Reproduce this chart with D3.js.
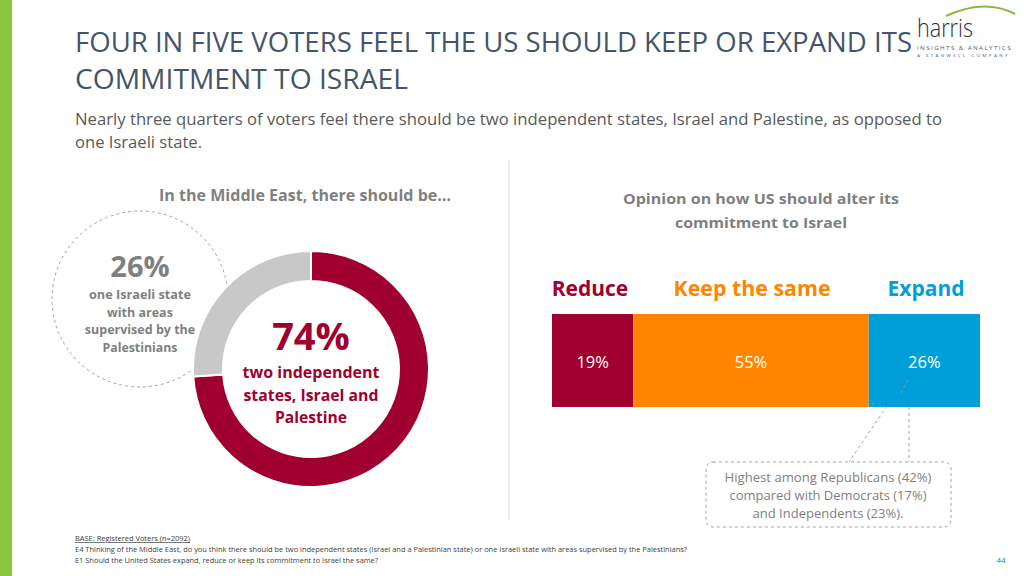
<!DOCTYPE html>
<html><head><meta charset="utf-8">
<script src="https://cdn.jsdelivr.net/npm/d3@7"></script>
<style>
html,body{margin:0;padding:0;background:#fff;}
svg{display:block;}
text{font-family:"Open Sans","Lato",sans-serif;}
</style></head>
<body>
<svg id="c" width="1024" height="576"></svg>
<script>
// ---- data ----
const donutLabels = ["two independent states, Israel and Palestine", "one Israeli state with areas supervised by the Palestinians"];
const donutValues = [74, 26];
const donutColors = ["#a0002f", "#c8c8c8"];

const barCategories = ["Reduce", "Keep the same", "Expand"];
const barValues = [19, 55, 26];
const barColors = ["#a0002f", "#ff8500", "#009fd9"];

const titleLines = ["FOUR IN FIVE VOTERS FEEL THE US SHOULD KEEP OR EXPAND ITS", "COMMITMENT TO ISRAEL"];
const subtitleLines = ["Nearly three quarters of voters feel there should be two independent states, Israel and Palestine, as opposed to", "one Israeli state."];
const leftHeader = "In the Middle East, there should be…";
const rightHeader = ["Opinion on how US should alter its", "commitment to Israel"];
const bigLabelLines = ["two independent", "states, Israel and", "Palestine"];
const smallLabelLines = ["one Israeli state", "with areas", "supervised by the", "Palestinians"];
const calloutLines = ["Highest among Republicans (42%)", "compared with Democrats (17%)", "and Independents (23%)."];
const footnotes = ["BASE: Registered Voters (n=2092)",
  "E4 Thinking of the Middle East, do you think there should be two independent states (Israel and a Palestinian state) or one Israeli state with areas supervised by the Palestinians?",
  "E1 Should the United States expand, reduce or keep its commitment to Israel the same?"];

const svg = d3.select("#c");

function fit(sel, w){
  sel.each(function(){
    const n = this.getComputedTextLength();
    if (Math.abs(n - w) > 1) d3.select(this).attr("textLength", w).attr("lengthAdjust","spacingAndGlyphs");
  });
  return sel;
}

// left green band
svg.append("rect").attr("x",0).attr("y",0).attr("width",12).attr("height",576).attr("fill","#8cc63f");

// title
const tW = [837, 333];
titleLines.forEach((t,i)=>{
  fit(svg.append("text").attr("x",75).attr("y",52+i*37).attr("font-size",27).attr("fill","#44546a").text(t), tW[i]);
});
const sW = [867, 127];
subtitleLines.forEach((t,i)=>{
  fit(svg.append("text").attr("x",75).attr("y",125+i*23).attr("font-size",16).attr("fill","#595959").text(t), sW[i]);
});

// harris logo
const logo = svg.append("g");
logo.append("path").attr("d","M946,16 Q985,-2 1015,14").attr("fill","none").attr("stroke","#8cb63c").attr("stroke-width",2);
fit(logo.append("text").attr("x",917).attr("y",37).attr("font-size",26).attr("font-weight",300).attr("fill","#2b2b3a").text("harris"),56);
fit(logo.append("text").attr("x",917).attr("y",50).attr("font-size",5.5).attr("fill","#5a5a6a").attr("letter-spacing",1.2).text("INSIGHTS & ANALYTICS"),95);
fit(logo.append("text").attr("x",917).attr("y",57).attr("font-size",4).attr("fill","#5a5a6a").attr("letter-spacing",2).text("A STAGWELL COMPANY"),93);

// divider
svg.append("line").attr("x1",509).attr("x2",509).attr("y1",160).attr("y2",520).attr("stroke","#d9d9d9").attr("stroke-width",1);

// left header
fit(svg.append("text").attr("x",305).attr("y",201).attr("text-anchor","middle").attr("font-size",15.5).attr("font-weight","bold").attr("fill","#7f7f7f").text(leftHeader), 292);

// dashed circle
svg.append("circle").attr("cx",140).attr("cy",299).attr("r",88).attr("fill","none").attr("stroke","#8c8c8c").attr("stroke-width",0.8).attr("stroke-dasharray","3,3");

// donut
const cx = 311, cy = 369;
const pie = d3.pie().sort(null)(donutValues);
const arc = d3.arc().innerRadius(88).outerRadius(118);
svg.append("g").attr("transform",`translate(${cx},${cy})`).selectAll("path").data(pie).join("path")
  .attr("d",arc).attr("fill",(d,i)=>donutColors[i]).attr("stroke","#fff").attr("stroke-width",2);

// 26% label
svg.append("text").attr("x",140).attr("y",277).attr("text-anchor","middle").attr("font-size",29).attr("font-weight","bold").attr("fill","#7f7f7f").text(donutValues[1]+"%");
const slW=[102,66,110,75];
smallLabelLines.forEach((t,i)=>{
  fit(svg.append("text").attr("x",140).attr("y",299+i*17.7).attr("text-anchor","middle").attr("font-size",12.5).attr("font-weight","bold").attr("fill","#7f7f7f").text(t), slW[i]);
});

// 74% label
svg.append("text").attr("x",311).attr("y",350).attr("text-anchor","middle").attr("font-size",38).attr("font-weight","bold").attr("fill","#a0002f").text(donutValues[0]+"%");
const blW=[137,135,72];
bigLabelLines.forEach((t,i)=>{
  fit(svg.append("text").attr("x",311).attr("y",378+i*22.5).attr("text-anchor","middle").attr("font-size",16.5).attr("font-weight","bold").attr("fill","#a0002f").text(t), blW[i]);
});

// right header
const rhW=[276,172];
rightHeader.forEach((t,i)=>{
  fit(svg.append("text").attr("x",761).attr("y",204+i*23.5).attr("text-anchor","middle").attr("font-size",15).attr("font-weight","bold").attr("fill","#7f7f7f").text(t), rhW[i]);
});

// stacked bar
const x = d3.scaleLinear().domain([0, d3.sum(barValues)]).range([552, 980]);
let cum = 0;
const segs = barValues.map((v,i)=>{ const s={cat:barCategories[i], v, x0:cum, x1:cum+v, c:barColors[i]}; cum+=v; return s; });
const barY = 314, barH = 93;
svg.append("g").selectAll("rect").data(segs).join("rect")
  .attr("x",d=>x(d.x0)).attr("width",d=>x(d.x1)-x(d.x0)).attr("y",barY).attr("height",barH).attr("fill",d=>d.c);
svg.append("g").selectAll("text").data(segs).join("text")
  .attr("x",d=>(x(d.x0)+x(d.x1))/2).attr("y",368).attr("text-anchor","middle").attr("font-size",16.5).attr("fill","#fff").text(d=>d.v+"%");

// legend labels above bars
const legW=[77,157,77];
const legX=[590,752,926];
svg.append("g").selectAll("text").data(segs).join("text")
  .attr("x",(d,i)=>legX[i]).attr("y",296).attr("text-anchor","middle").attr("font-size",21).attr("font-weight","bold").attr("fill",d=>d.c).text(d=>d.cat)
  .each(function(d,i){ fit(d3.select(this), legW[i]); });

// callout
const cg = svg.append("g").attr("fill","none").attr("stroke","#8c8c8c").attr("stroke-width",0.8).attr("stroke-dasharray","3,3");
cg.append("line").attr("x1",887).attr("y1",406).attr("x2",849).attr("y2",462);
cg.append("line").attr("x1",908).attr("y1",380).attr("x2",901).attr("y2",393).attr("stroke","#a0a0a0");
cg.append("line").attr("x1",909).attr("y1",407).attr("x2",909).attr("y2",462);
cg.append("rect").attr("x",706).attr("y",462).attr("width",245).attr("height",65).attr("rx",7);
const cW=[207,197,151];
calloutLines.forEach((t,i)=>{
  fit(svg.append("text").attr("x",828).attr("y",482+i*18).attr("text-anchor","middle").attr("font-size",12.5).attr("fill","#7f7f7f").text(t), cW[i]);
});

// footnotes
const fW=[115,612,303];
footnotes.forEach((t,i)=>{
  const el = svg.append("text").attr("x",75).attr("y",541+i*11).attr("font-size",7).attr("fill","#404040").text(t);
  if(i===0) el.attr("text-decoration","underline");
  fit(el, fW[i]);
});

// page number
svg.append("text").attr("x",1001).attr("y",563).attr("text-anchor","middle").attr("font-size",8).attr("fill","#2e75b6").text("44");
</script>
</body></html>
